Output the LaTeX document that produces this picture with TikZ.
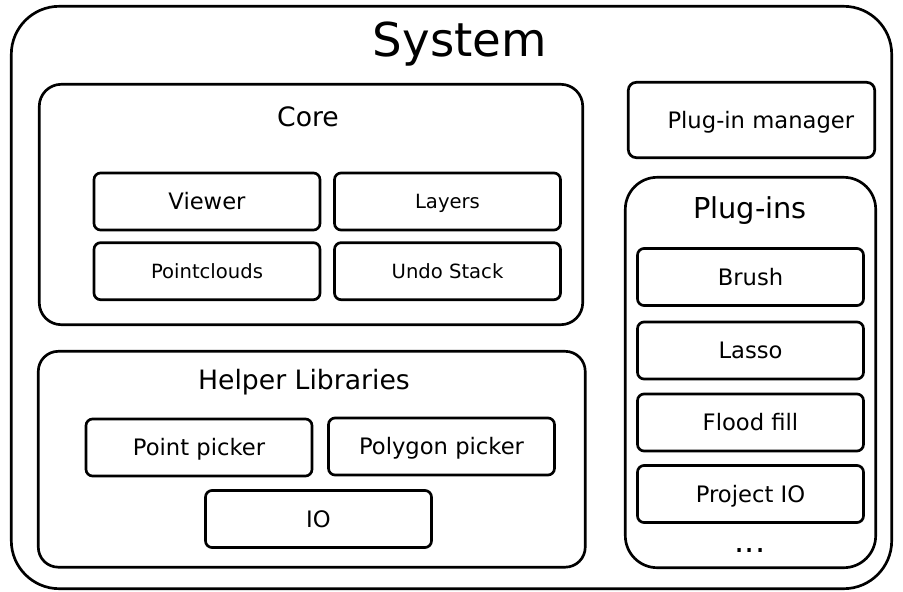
\documentclass[tikz,border=0pt]{standalone}
\usepackage{fontspec}
\setmainfont{DejaVu Sans}
\newcommand\fsz[1]{\fontsize{#1}{#1}\selectfont}
\begin{document}
\begin{tikzpicture}[x=0.75pt,y=-0.75pt,
  cont/.style={draw, line width=2pt, inner sep=0pt},
  bx/.style={draw, line width=2pt, rounded corners=5pt, inner sep=0pt,
    minimum width=169.5pt, minimum height=42.8pt,
    font=\fsz{17}, text height=12.4pt, text depth=0pt},
  sm/.style={font=\fsz{14.7}, text height=10.7pt},
  ttl/.style={anchor=base, inner sep=0pt}]
\useasboundingbox (0,0) rectangle (903,592);

% containers
\node[cont, rounded corners=36pt, minimum width=660.3pt, minimum height=436.8pt] (sys) at (451.5,297.5) {};
\node[cont, rounded corners=16.5pt, minimum width=407.6pt, minimum height=180.3pt] (core) at (311,204.5) {};
\node[cont, rounded corners=15pt, minimum width=410.2pt, minimum height=161.9pt] (helper) at (311.75,459.25) {};
\node[cont, rounded corners=24pt, minimum width=187.8pt, minimum height=292.8pt] (plugins) at (750.5,372.5) {};

% titles
\node[ttl, font=\fsz{35}] (systitle) at (460,56.7) {System};
\node[ttl, font=\fsz{20}] (coretitle) at (308,126) {Core};
\node[ttl, font=\fsz{20}] (helpertitle) at (304,389) {Helper Libraries};
\node[ttl, font=\fsz{21.6}] (plugtitle) at (750,218.3) {Plug-ins};
\node[ttl, font=\fsz{24}] (dots) at (750,552) {...};

% core boxes
\node[bx] (viewer) at (207,201.5) {Viewer};
\node[bx, sm] (layers) at (447.5,201.5) {Layers};
\node[bx, sm] (pointclouds) at (207,271.2) {Pointclouds};
\node[bx, sm] (undo) at (447.5,271.2) {Undo Stack};

% helper boxes
\node[bx] (pointpicker) at (199,447.5) {Point picker};
\node[bx] (polypicker) at (441.5,446.5) {Polygon picker};
\node[bx] (io) at (318.5,519) {IO};

% plug-in manager
\node[bx, rounded corners=6pt, minimum width=184.8pt, minimum height=56.5pt] (manager) at (751.5,120) {\hspace*{14pt}Plug-in manager};

% plug-ins
\node[bx] (brush) at (750.5,277) {Brush};
\node[bx] (lasso) at (750.5,350.5) {Lasso};
\node[bx] (flood) at (750.5,422.5) {Flood fill};
\node[bx] (projectio) at (750.5,494) {Project IO};
\end{tikzpicture}
\end{document}
